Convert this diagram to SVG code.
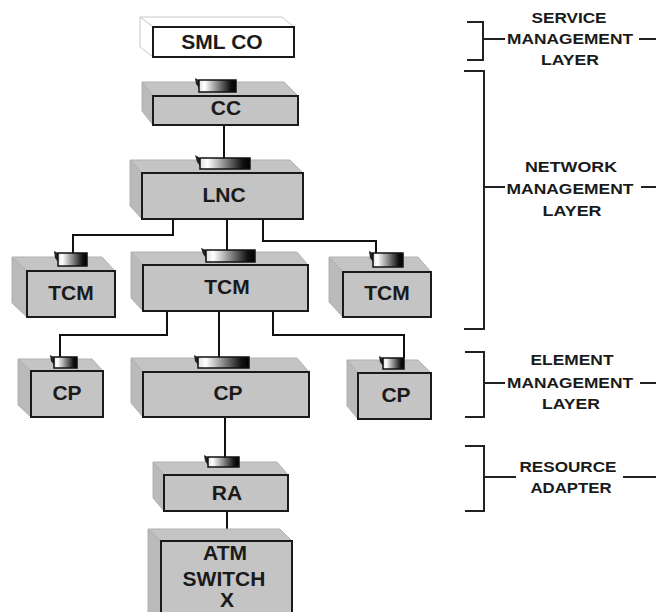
<svg xmlns="http://www.w3.org/2000/svg" width="656" height="612" viewBox="0 0 656 612">
<style>
.face{fill:#c4c4c4;stroke:#b0b0b0;stroke-width:1}
.side{fill:#bababa;stroke:#b0b0b0;stroke-width:1}
.front{fill:#c4c4c4;stroke:#1a1a1a;stroke-width:2}
.wface{fill:#fff;stroke:#c8c8c8;stroke-width:1}
.wfront{fill:#fff;stroke:#1a1a1a;stroke-width:2}
.chip{fill:url(#chipg);stroke:#111;stroke-width:1.5}
.tick{fill:#222}
.lbl{font-family:"Liberation Sans",Arial,sans-serif;font-weight:bold;font-size:21px;fill:#1a1a1a;text-anchor:middle}
.lay{font-family:"Liberation Sans",Arial,sans-serif;font-weight:bold;font-size:15px;fill:#1a1a1a;text-anchor:middle}
.conn{fill:none;stroke:#111;stroke-width:2}
.brk{fill:none;stroke:#222;stroke-width:2}
</style>
<defs>
<linearGradient id="chipg" x1="0" y1="0" x2="1" y2="0">
<stop offset="0" stop-color="#e0e0e0"/>
<stop offset="0.15" stop-color="#ffffff"/>
<stop offset="0.85" stop-color="#111111"/>
<stop offset="1" stop-color="#000000"/>
</linearGradient>
</defs>
<rect width="656" height="612" fill="#fff"/>

<g id="connectors">
<path class="conn" d="M224,125 V158"/>
<path class="conn" d="M173,219 V235 H73 V253"/>
<path class="conn" d="M227,219 V250"/>
<path class="conn" d="M263,219 V241 H376 V253"/>
<path class="conn" d="M167,311 V335 H60 V357"/>
<path class="conn" d="M219,311 V357"/>
<path class="conn" d="M273,311 V335 H404 V358"/>
<path class="conn" d="M225,417 V457"/>
<path class="conn" d="M227,511 V529"/>
</g>

<g id="sml-co">
<polygon class="wface" points="140,17 282,17 294,27 153,27"/>
<polygon class="wface" points="140,17 153,27 153,57 140,47"/>
<rect class="wfront" x="153" y="27" width="141" height="30"/>
<text class="lbl" x="222" y="49">SML CO</text>
</g>

<g id="cc">
<polygon class="face" points="142,82 284,82 298,96 153,96"/>
<polygon class="side" points="142,82 153,96 153,125 142,111"/>
<rect class="front" x="153" y="96" width="145" height="29"/>
<path class="tick" d="M195,78 L199,80 L199,88 L196,84 Z"/>
<rect class="chip" x="199" y="80" width="37" height="12"/>
<text class="lbl" x="226" y="115">CC</text>
</g>

<g id="lnc">
<polygon class="face" points="130,160 290,160 303,173 142,173"/>
<polygon class="side" points="130,160 142,173 142,219 130,206"/>
<rect class="front" x="142" y="173" width="161" height="46"/>
<path class="tick" d="M195,155 L200,158 L200,166 L197,162 Z"/>
<rect class="chip" x="200" y="158" width="50" height="11"/>
<text class="lbl" x="224" y="202">LNC</text>
</g>

<g id="tcm-left">
<polygon class="face" points="12,257 102,257 115,271 27,271"/>
<polygon class="side" points="12,257 27,271 27,317 12,303"/>
<rect class="front" x="27" y="271" width="88" height="46"/>
<path class="tick" d="M54,251 L58,253 L58,262 L55,258 Z"/>
<rect class="chip" x="58" y="253" width="29" height="13"/>
<text class="lbl" x="71" y="300">TCM</text>
</g>

<g id="tcm-center">
<polygon class="face" points="131,252 297,252 308,265 143,265"/>
<polygon class="side" points="131,252 143,265 143,311 131,298"/>
<rect class="front" x="143" y="265" width="165" height="46"/>
<path class="tick" d="M201,248 L206,250 L206,258 L203,254 Z"/>
<rect class="chip" x="206" y="250" width="49" height="12"/>
<text class="lbl" x="227" y="294">TCM</text>
</g>

<g id="tcm-right">
<polygon class="face" points="329,257 418,257 431,272 343,272"/>
<polygon class="side" points="329,257 343,272 343,317 329,302"/>
<rect class="front" x="343" y="272" width="88" height="45"/>
<path class="tick" d="M369,251 L373,253 L373,262 L370,258 Z"/>
<rect class="chip" x="373" y="253" width="30" height="14"/>
<text class="lbl" x="387" y="300">TCM</text>
</g>

<g id="cp-left">
<polygon class="face" points="18,359 92,359 103,371 31,371"/>
<polygon class="side" points="18,359 31,371 31,417 18,405"/>
<rect class="front" x="31" y="371" width="72" height="46"/>
<path class="tick" d="M50,355 L54,357 L54,365 L51,361 Z"/>
<rect class="chip" x="54" y="357" width="23" height="11"/>
<text class="lbl" x="67" y="400">CP</text>
</g>

<g id="cp-center">
<polygon class="face" points="131,358 297,358 309,372 143,372"/>
<polygon class="side" points="131,358 143,372 143,417 131,403"/>
<rect class="front" x="143" y="372" width="166" height="45"/>
<path class="tick" d="M194,355 L198,357 L198,365 L195,361 Z"/>
<rect class="chip" x="198" y="357" width="51" height="11"/>
<text class="lbl" x="228" y="400">CP</text>
</g>

<g id="cp-right">
<polygon class="face" points="347,360 418,360 431,373 358,373"/>
<polygon class="side" points="347,360 358,373 358,419 347,406"/>
<rect class="front" x="358" y="373" width="73" height="46"/>
<path class="tick" d="M379,356 L383,358 L383,366 L380,362 Z"/>
<rect class="chip" x="383" y="358" width="21" height="11"/>
<text class="lbl" x="396" y="402">CP</text>
</g>

<g id="ra">
<polygon class="face" points="153,462 277,462 288,475 164,475"/>
<polygon class="side" points="153,462 164,475 164,511 153,498"/>
<rect class="front" x="164" y="475" width="124" height="36"/>
<path class="tick" d="M204,455 L208,457 L208,465 L205,461 Z"/>
<rect class="chip" x="208" y="457" width="31" height="10"/>
<text class="lbl" x="227" y="500">RA</text>
</g>

<g id="atm-switch">
<polygon class="face" points="148,529 280,529 292,541 161,541"/>
<polygon class="side" points="148,529 161,541 161,625 148,613"/>
<rect class="front" x="161" y="541" width="131" height="84"/>
<text class="lbl" x="225" y="560">ATM</text>
<text class="lbl" x="224" y="586">SWITCH</text>
<text class="lbl" x="227" y="607">X</text>
</g>

<g id="layer-service">
<path class="brk" d="M467,22 H483 V60 H467 M483,39 H505 M639,39 H656"/>
<text class="lay" x="569" y="23" textLength="75" lengthAdjust="spacingAndGlyphs">SERVICE</text>
<text class="lay" x="570" y="44" textLength="126" lengthAdjust="spacingAndGlyphs">MANAGEMENT</text>
<text class="lay" x="570" y="65" textLength="58" lengthAdjust="spacingAndGlyphs">LAYER</text>
</g>

<g id="layer-network">
<path class="brk" d="M464,71 H484 V329 H464 M484,187 H505 M641,187 H656"/>
<text class="lay" x="571" y="172" textLength="92" lengthAdjust="spacingAndGlyphs">NETWORK</text>
<text class="lay" x="570" y="194" textLength="127" lengthAdjust="spacingAndGlyphs">MANAGEMENT</text>
<text class="lay" x="572" y="216" textLength="59" lengthAdjust="spacingAndGlyphs">LAYER</text>
</g>

<g id="layer-element">
<path class="brk" d="M465,352 H484 V417 H465 M484,383 H505 M640,383 H656"/>
<text class="lay" x="572" y="365" textLength="83" lengthAdjust="spacingAndGlyphs">ELEMENT</text>
<text class="lay" x="570" y="388" textLength="126" lengthAdjust="spacingAndGlyphs">MANAGEMENT</text>
<text class="lay" x="571" y="409" textLength="58" lengthAdjust="spacingAndGlyphs">LAYER</text>
</g>

<g id="layer-resource">
<path class="brk" d="M465,446 H484 V511 H465 M484,477 H516 M623,477 H656"/>
<text class="lay" x="568" y="472" textLength="97" lengthAdjust="spacingAndGlyphs">RESOURCE</text>
<text class="lay" x="571" y="493" textLength="81" lengthAdjust="spacingAndGlyphs">ADAPTER</text>
</g>
</svg>
